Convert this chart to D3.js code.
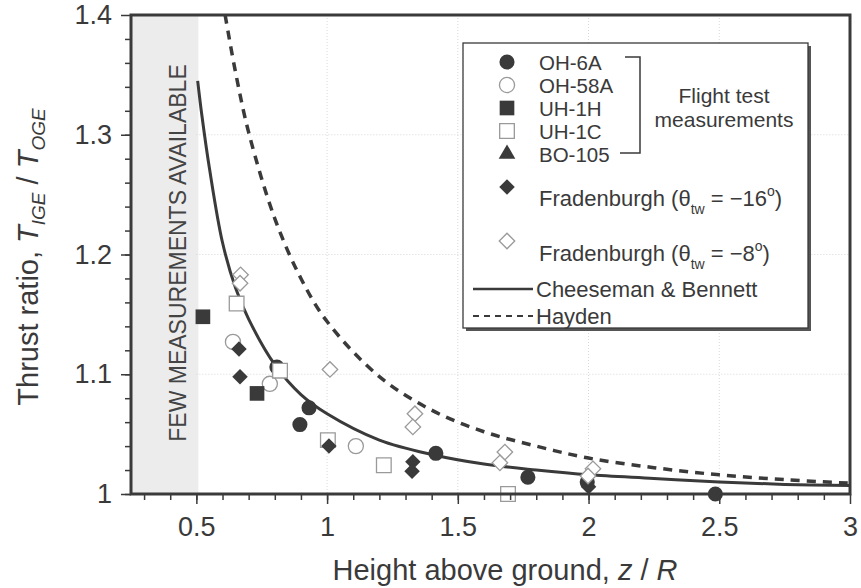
<!DOCTYPE html>
<html>
<head>
<meta charset="utf-8">
<script src="https://cdn.jsdelivr.net/npm/d3@7"></script>
<style>
  body { margin: 0; background: #fff; }
  svg { font-family: "Liberation Sans", Arial, Helvetica, sans-serif; }
</style>
</head>
<body>
<svg id="chart" width="861" height="588"></svg>
<script>
// values
const xTickValues = [0.5, 1, 1.5, 2, 2.5, 3]
const xTickLabels = ["0.5", "1", "1.5", "2", "2.5", "3"]
const yTickValues = [1, 1.1, 1.2, 1.3, 1.4]
const yTickLabels = ["1", "1.1", "1.2", "1.3", "1.4"]

// Cheeseman & Bennett (solid)
const cbZ = [0.505, 0.52, 0.55, 0.6, 0.65, 0.7, 0.8, 0.9, 1.0, 1.2, 1.4, 1.6, 1.8, 2.0, 2.25, 2.5, 2.75, 3.0]
const cbT = [1.345, 1.318, 1.272, 1.210, 1.172, 1.146, 1.108, 1.083, 1.067, 1.045, 1.033, 1.025, 1.020, 1.016, 1.013, 1.010, 1.008, 1.007]
// Hayden (dashed)
const hayZ = [0.61, 0.65, 0.7, 0.8, 0.9, 1.0, 1.2, 1.4, 1.6, 1.8, 2.0, 2.25, 2.5, 2.75, 3.0]
const hayT = [1.400, 1.352, 1.302, 1.230, 1.180, 1.144, 1.098, 1.070, 1.052, 1.040, 1.030, 1.022, 1.016, 1.012, 1.009]

// flight test and model data [z/R, T_IGE/T_OGE]
const oh6a = [[0.808, 1.106], [0.931, 1.072], [0.896, 1.058], [1.416, 1.034], [1.768, 1.014], [1.995, 1.010], [2.485, 1.0]]
const oh58a = [[0.64, 1.127], [0.781, 1.092], [1.11, 1.040]]
const uh1h = [[0.525, 1.148], [0.732, 1.084]]
const uh1c = [[0.654, 1.159], [0.82, 1.103], [1.003, 1.045], [1.217, 1.024], [1.692, 1.0]]
const bo105 = []
const frad16 = [[0.663, 1.121], [0.667, 1.098], [1.007, 1.040], [1.328, 1.027], [1.325, 1.019], [2.0, 1.006]]
const frad8 = [[0.669, 1.183], [0.667, 1.176], [1.011, 1.104], [1.336, 1.067], [1.328, 1.056], [1.68, 1.035], [1.661, 1.026], [2.017, 1.021], [1.998, 1.015]]

const dark = "#3a3a3a"
const svg = d3.select("#chart")
const x = d3.scaleLinear().domain([0.25, 3]).range([131, 850])
const y = d3.scaleLinear().domain([1, 1.4]).range([494, 15])

// shaded region
svg.append("rect")
  .attr("x", x(0.25)).attr("y", y(1.4))
  .attr("width", x(0.5) - x(0.25) + 2).attr("height", y(1) - y(1.4))
  .attr("fill", "#ececec")

svg.append("text")
  .attr("transform", "translate(" + 186 + "," + 253 + ")rotate(-90)")
  .attr("text-anchor", "middle")
  .style("font-size", "23px")
  .attr("fill", "#444")
  .text("FEW MEASUREMENTS AVAILABLE")

// faint grid
const grid = svg.append("g").attr("stroke", "#d8d8d8").attr("stroke-width", 1).attr("stroke-dasharray", "1,2")
grid.selectAll("line.v").data([1, 1.5, 2, 2.5]).enter().append("line")
  .attr("x1", d => x(d)).attr("x2", d => x(d)).attr("y1", y(1.4)).attr("y2", y(1))
grid.selectAll("line.h").data([1.1, 1.2, 1.3]).enter().append("line")
  .attr("x1", x(0.5)).attr("x2", x(3)).attr("y1", d => y(d)).attr("y2", d => y(d))

// curves
const line = d3.line().x(d => x(d[0])).y(d => y(d[1])).curve(d3.curveCatmullRom)
svg.append("path")
  .attr("d", line(cbZ.map((z, i) => [z, cbT[i]])))
  .attr("fill", "none").attr("stroke", dark).attr("stroke-width", 3)
svg.append("path")
  .attr("d", line(hayZ.map((z, i) => [z, hayT[i]])))
  .attr("fill", "none").attr("stroke", dark).attr("stroke-width", 3.5)
  .attr("stroke-dasharray", "9,7")

// markers
const filled = { fill: dark, stroke: "none", sw: 0 }
const open = { fill: "#fff", stroke: "#9a9a9a", sw: 1.3 }
const shapes = {
  circle: d3.symbol().type(d3.symbolCircle).size(180),
  square: d3.symbol().type(d3.symbolSquare).size(215),
  diamond: d3.symbol().type(d3.symbolSquare).size(120),
  triangle: d3.symbol().type(d3.symbolTriangle).size(120)
}
const series = [
  { data: oh6a, shape: "circle", style: filled, label: "OH-6A" },
  { data: oh58a, shape: "circle", style: open, label: "OH-58A" },
  { data: uh1h, shape: "square", style: filled, label: "UH-1H" },
  { data: uh1c, shape: "square", style: open, label: "UH-1C" },
  { data: bo105, shape: "triangle", style: filled, label: "BO-105" },
  { data: frad16, shape: "diamond", style: filled },
  { data: frad8, shape: "diamond", style: open }
]
function marker(sel, s, px, py) {
  sel.append("path")
    .attr("d", shapes[s.shape]())
    .attr("transform", "translate(" + px + "," + py + ")" + (s.shape === "diamond" ? "rotate(45)" : ""))
    .attr("fill", s.style.fill).attr("stroke", s.style.stroke).attr("stroke-width", s.style.sw)
}
const marks = svg.append("g")
series.forEach(s => {
  s.data.forEach(d => marker(marks, s, x(d[0]), y(d[1])))
})

// axes
const xAxis = d3.axisBottom(x).tickValues(xTickValues).tickFormat((d, i) => xTickLabels[i]).tickSize(10).tickSizeOuter(0).tickPadding(13)
const xMinor = d3.axisBottom(x).tickValues(d3.range(3, 30).map(v => v / 10)).tickFormat("").tickSize(6).tickSizeOuter(0)
const yAxis = d3.axisLeft(y).tickValues(yTickValues).tickFormat((d, i) => yTickLabels[i]).tickSize(10).tickSizeOuter(0).tickPadding(9)
const yMinor = d3.axisLeft(y).tickValues(d3.range(50, 70).map(v => v / 50)).tickFormat("").tickSize(6).tickSizeOuter(0)

function styleAxis(g) {
  g.select(".domain").remove()
  g.selectAll(".tick line").attr("stroke", dark).attr("stroke-width", 1.5)
  g.selectAll(".tick text").attr("fill", dark).style("font-size", "27px").style("font-family", "Liberation Sans, Arial, sans-serif")
}
svg.append("g").attr("transform", "translate(0," + y(1) + ")").call(xMinor).call(styleAxis)
svg.append("g").attr("transform", "translate(0," + y(1) + ")").call(xAxis).call(styleAxis)
svg.append("g").attr("transform", "translate(" + x(0.25) + ",0)").call(yMinor).call(styleAxis)
svg.append("g").attr("transform", "translate(" + x(0.25) + ",0)").call(yAxis).call(styleAxis)

// frame
svg.append("rect")
  .attr("x", x(0.25)).attr("y", y(1.4))
  .attr("width", x(3) - x(0.25)).attr("height", y(1) - y(1.4))
  .attr("fill", "none").attr("stroke", dark).attr("stroke-width", 3)

// axis titles
const xt = svg.append("text")
  .attr("x", 505).attr("y", 580).attr("text-anchor", "middle")
  .style("font-size", "29px").attr("fill", dark)
xt.append("tspan").text("Height above ground, ")
xt.append("tspan").style("font-style", "italic").text("z")
xt.append("tspan").text(" / ")
xt.append("tspan").style("font-style", "italic").text("R")

const yt = svg.append("text")
  .attr("transform", "translate(" + 38 + "," + 257 + ")rotate(-90)")
  .attr("text-anchor", "middle")
  .style("font-size", "29px").attr("fill", dark)
yt.append("tspan").text("Thrust ratio, ")
yt.append("tspan").style("font-style", "italic").text("T")
yt.append("tspan").style("font-style", "italic").style("font-size", "19px").attr("dy", 7).text("IGE")
yt.append("tspan").attr("dy", -7).text(" / ")
yt.append("tspan").style("font-style", "italic").text("T")
yt.append("tspan").style("font-style", "italic").style("font-size", "19px").attr("dy", 7).text("OGE")

// legend
const lg = svg.append("g")
lg.append("rect").attr("x", 466).attr("y", 46).attr("width", 345).attr("height", 285).attr("fill", "#555")
lg.append("rect").attr("x", 463).attr("y", 43).attr("width", 345).attr("height", 285)
  .attr("fill", "#fff").attr("stroke", dark).attr("stroke-width", 1.3)

const legFont = "22px"
const listFont = "20.5px"
const legRows = [62, 85, 108, 131, 154]
series.slice(0, 5).forEach((s, i) => {
  marker(lg, s, 507, legRows[i])
  lg.append("text").attr("x", 539).attr("y", legRows[i] + 8)
    .style("font-size", listFont).attr("fill", dark).text(s.label)
})
lg.append("path")
  .attr("d", "M625,57H640V153H620")
  .attr("fill", "none").attr("stroke", dark).attr("stroke-width", 1.5)
lg.append("text").attr("x", 724).attr("y", 103).attr("text-anchor", "middle")
  .style("font-size", "21px").attr("fill", dark).text("Flight test")
lg.append("text").attr("x", 724).attr("y", 127).attr("text-anchor", "middle")
  .style("font-size", "21px").attr("fill", dark).text("measurements")

function fradLabel(yy, angle) {
  const t = lg.append("text").attr("x", 539).attr("y", yy).style("font-size", legFont).attr("fill", dark)
  t.append("tspan").text("Fradenburgh (θ")
  t.append("tspan").style("font-size", "14px").attr("dy", 8).text("tw")
  t.append("tspan").attr("dy", -8).text(" = −" + angle)
  t.append("tspan").style("font-size", "14px").attr("dy", -10).text("o")
  t.append("tspan").attr("dy", 10).text(")")
}
marker(lg, series[5], 507, 187)
fradLabel(206, "16")
marker(lg, series[6], 507, 241)
fradLabel(261, "8")

lg.append("line").attr("x1", 473).attr("x2", 533).attr("y1", 289).attr("y2", 289)
  .attr("stroke", dark).attr("stroke-width", 2.5)
lg.append("text").attr("x", 536).attr("y", 297).style("font-size", legFont).attr("fill", dark).text("Cheeseman & Bennett")
lg.append("line").attr("x1", 473).attr("x2", 533).attr("y1", 316).attr("y2", 316)
  .attr("stroke", dark).attr("stroke-width", 2).attr("stroke-dasharray", "6,5")
lg.append("text").attr("x", 536).attr("y", 324).style("font-size", legFont).attr("fill", dark).text("Hayden")
</script>
</body>
</html>
